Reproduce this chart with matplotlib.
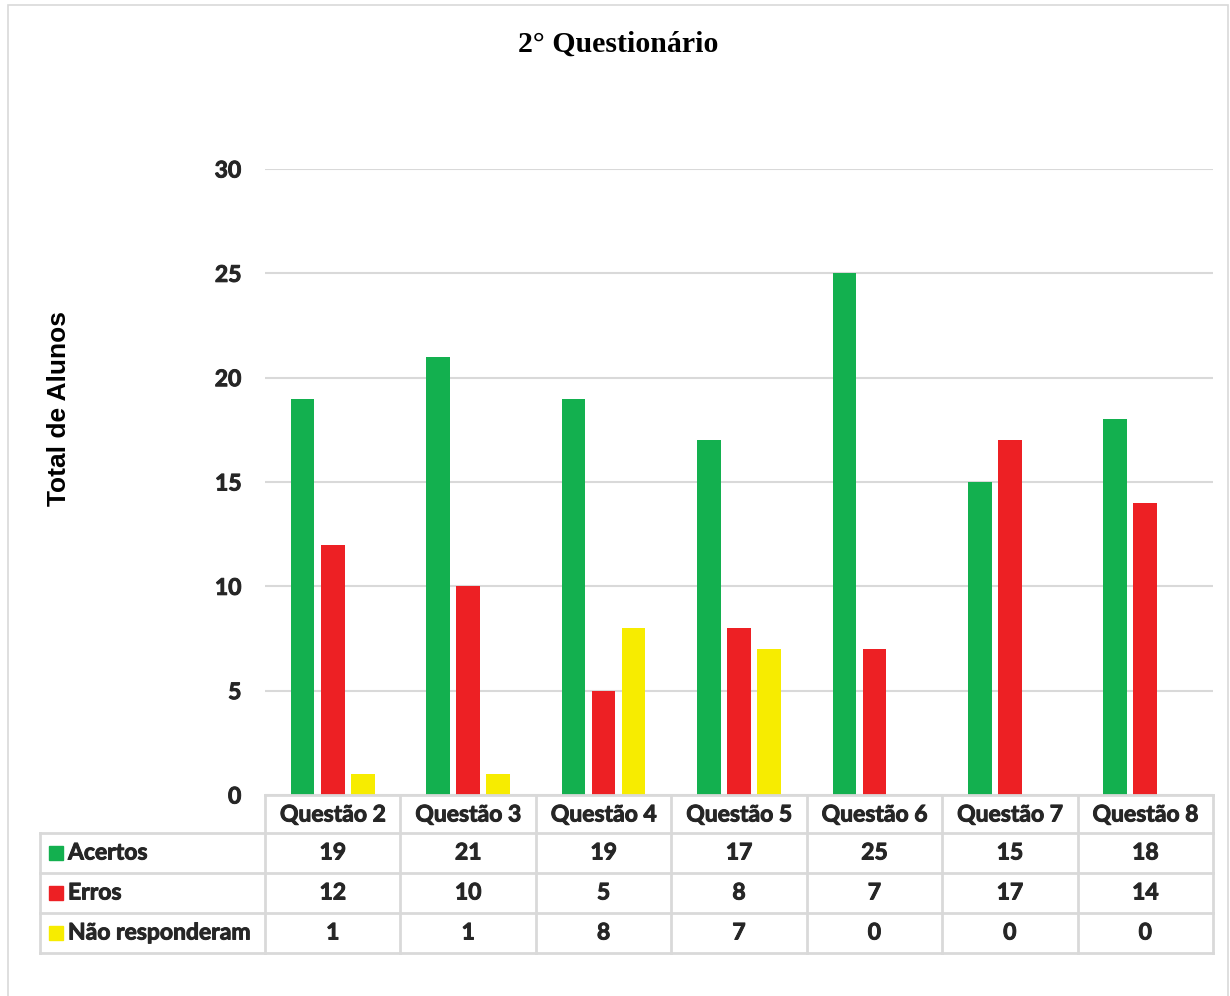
import matplotlib.pyplot as plt
import matplotlib.transforms as mtransforms
import matplotlib.patheffects as pe
from matplotlib.lines import Line2D
from matplotlib.patches import Rectangle
import numpy as np

questoes = ["Questão 2", "Questão 3", "Questão 4", "Questão 5",
            "Questão 6", "Questão 7", "Questão 8"]
acertos = [19, 21, 19, 17, 25, 15, 18]
erros = [12, 10, 5, 8, 7, 17, 14]
nao_resp = [1, 1, 8, 7, 0, 0, 0]
series = ["Acertos", "Erros", "Não responderam"]
cores = ["#13b04f", "#ed2024", "#f7ec00"]

W, H = 1230, 996
fig = plt.figure(figsize=(W / 100, H / 100), dpi=100)
heavy = [pe.withStroke(linewidth=0.7, foreground="#262626")]

def fx(px):
    return px / W

def fy(py):
    return 1 - py / H

# frame round the whole chart
fig.add_artist(Rectangle((fx(8), fy(1010)), fx(1228) - fx(8), fy(5) - fy(1010),
                         transform=fig.transFigure, fill=False,
                         edgecolor="#d9d9d9", lw=1.2))

ax = fig.add_axes([fx(265), fy(795), fx(1213) - fx(265), fy(169) - fy(795)])
x = np.arange(len(questoes))
w = 0.175
step = 0.222
for i, (vals, c) in enumerate(zip([acertos, erros, nao_resp], cores)):
    ax.bar(x + (i - 1) * step, vals, w, color=c, zorder=3)

ax.set_xlim(-0.5, len(questoes) - 0.5)
ax.set_ylim(0, 30)
ax.set_yticks(range(0, 31, 5))
ax.yaxis.grid(True, color="#d9d9d9", lw=1.5, zorder=0)
ax.set_xticks([])
for s in ax.spines.values():
    s.set_visible(False)
ax.tick_params(axis="y", length=0, pad=17)
for lb in ax.get_yticklabels():
    lb.set_fontfamily("Lato")
    lb.set_fontweight("bold")
    lb.set_fontsize(16.5)
    lb.set_color("#262626")
    lb.set_path_effects(heavy)

fig.text(fx(59), fy(408), "Total de Alunos", rotation=90, ha="center",
         va="center", fontsize=19, fontweight="bold", family="Liberation Sans")

fig.text(fx(618), fy(44), "2° Questionário", ha="center", va="center",
         fontsize=21.5, fontweight="bold", family="Liberation Serif")

# data table below the axes
grid_c = "#d9d9d9"
rows_y = [795, 833, 873, 913, 953]
col_x = [265 + k * (1213 - 265) / 7 for k in range(8)]

def hline(y, x0, x1):
    fig.add_artist(Line2D([fx(x0), fx(x1)], [fy(y), fy(y)],
                          transform=fig.transFigure, color=grid_c, lw=2))

def vline(xp, y0, y1):
    fig.add_artist(Line2D([fx(xp), fx(xp)], [fy(y0), fy(y1)],
                          transform=fig.transFigure, color=grid_c, lw=2))

hline(795, 265, 1213)
for y in rows_y[1:]:
    hline(y, 40, 1213)
vline(40, 833, 953)
for xp in col_x:
    vline(xp, 795, 953)

tr = mtransforms.blended_transform_factory(ax.transData, fig.transFigure)
txt = dict(fontsize=16.5, fontweight="bold", family="Lato", color="#262626",
           ha="center", va="center", path_effects=heavy)
for i, q in enumerate(questoes):
    fig.text(x[i], fy(815), q, transform=tr, **txt)
for r, (name, vals, c) in enumerate(zip(series, [acertos, erros, nao_resp], cores)):
    yc = (rows_y[r + 1] + rows_y[r + 2]) / 2
    fig.add_artist(Rectangle((fx(49), fy(yc + 7)), fx(14), fy(yc - 7) - fy(yc + 7),
                             transform=fig.transFigure, color=c))
    fig.text(fx(68), fy(yc), name, ha="left", va="center", fontsize=16.5,
             fontweight="bold", family="Lato", color="#262626",
             path_effects=heavy)
    for i, v in enumerate(vals):
        fig.text(x[i], fy(yc), str(v), transform=tr, **txt)

fig.savefig("out.png", dpi=100)
